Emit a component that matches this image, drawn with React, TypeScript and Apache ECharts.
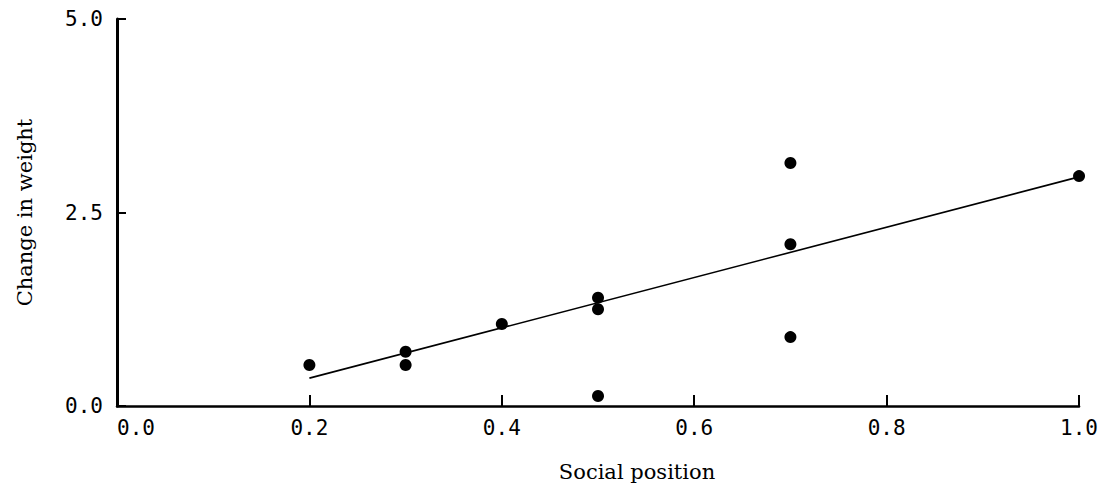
import React, { useEffect, useRef } from "react";
import * as echarts from "echarts";

const xValues = [0.2, 0.3, 0.3, 0.4, 0.5, 0.5, 0.5, 0.7, 0.7, 0.7, 1.0];
const yValues = [0.53, 0.7, 0.53, 1.06, 1.4, 1.25, 0.13, 3.14, 2.09, 0.89, 2.97];
const fitX = [0.2, 1.0];
const fitY = [0.36, 2.96];
const xAxisName = "Social position";
const yAxisName = "Change in weight";

export default function App() {
  const ref = useRef<HTMLDivElement>(null);
  useEffect(() => {
    if (!ref.current) return;
    const chart = echarts.init(ref.current, undefined, { renderer: "svg" });
    const points = xValues.map((x, i) => [x, yValues[i]]);
    const fit = fitX.map((x, i) => [x, fitY[i]]);
    const labelFont = {
      fontFamily: "DejaVu Sans Mono",
      fontSize: 21,
      color: "#000",
    };
    chart.setOption({
      animation: false,
      backgroundColor: "#fff",
      grid: { left: 117, right: 20, top: 19, bottom: 81 },
      xAxis: {
        type: "value",
        min: 0,
        max: 1,
        interval: 0.2,
        name: xAxisName,
        nameLocation: "middle",
        nameGap: 55,
        nameTextStyle: {
          fontFamily: "DejaVu Serif",
          fontSize: 21,
          color: "#000",
          padding: [0, 0, 0, 78],
        },
        splitLine: { show: false },
        axisLine: { lineStyle: { color: "#000", width: 2.5 } },
        axisTick: { inside: true, length: 11, lineStyle: { color: "#000", width: 2 } },
        axisLabel: {
          ...labelFont,
          margin: 11,
          alignMinLabel: "left",
          formatter: (v: number) => v.toFixed(1),
        },
      },
      yAxis: {
        type: "value",
        min: 0,
        max: 5,
        interval: 2.5,
        name: yAxisName,
        nameLocation: "middle",
        nameGap: 82,
        nameTextStyle: {
          fontFamily: "DejaVu Serif",
          fontSize: 21,
          color: "#000",
        },
        splitLine: { show: false },
        axisLine: { show: true, lineStyle: { color: "#000", width: 3 } },
        axisTick: { show: true, inside: true, length: 9, lineStyle: { color: "#000", width: 2 } },
        axisLabel: {
          ...labelFont,
          margin: 14,
          formatter: (v: number) => v.toFixed(1),
        },
      },
      series: [
        {
          type: "line",
          data: fit,
          symbol: "none",
          lineStyle: { color: "#000", width: 1.6 },
          z: 2,
        },
        {
          type: "scatter",
          data: points,
          symbol: "circle",
          symbolSize: 12,
          itemStyle: { color: "#000", opacity: 1 },
          z: 3,
        },
      ],
    });
    return () => chart.dispose();
  }, []);
  return (
    <div
      ref={ref}
      style={{ position: "fixed", left: 0, top: 0, width: 1101, height: 487, background: "#fff" }}
    />
  );
}
